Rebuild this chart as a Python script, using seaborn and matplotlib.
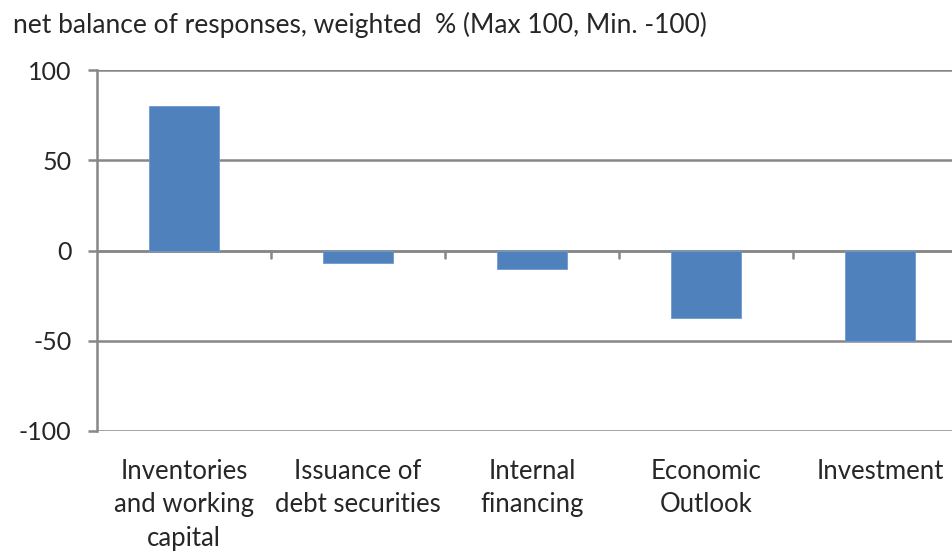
import numpy as np
import pandas as pd
import matplotlib
matplotlib.use("Agg")
import matplotlib.pyplot as plt
import seaborn as sns

categories = ["Inventories\nand working\ncapital", "Issuance of\ndebt securities",
              "Internal\nfinancing", "Economic\nOutlook", "Investment"]
values = [80, -7, -10, -37.5, -50]
y_ticks = [-100, -50, 0, 50, 100]

df = pd.DataFrame({"category": categories, "value": values})

sns.set_style("white")
plt.rcParams['font.family'] = ['Lato', 'DejaVu Sans']

fig = plt.figure(figsize=(9.52, 5.53), dpi=100)
ax = fig.add_axes([97 / 952, 1 - 431 / 553, 870 / 952, 361 / 553])

sns.barplot(data=df, x="category", y="value", color="#4F81BD", saturation=1,
            width=0.4, ax=ax, zorder=3, edgecolor="#6F9BCF", linewidth=0.6)

grid_col = "#878787"
ax.set_ylim(-100, 100)
ax.set_xlim(-0.5, 4.5)
ax.set_yticks(y_ticks)
ax.set_yticklabels([str(v) for v in y_ticks], fontsize=18)
ax.yaxis.grid(True, color=grid_col, linewidth=1.8, zorder=0)
ax.axhline(0, color=grid_col, linewidth=1.8, zorder=2)
for s in ["top", "right", "bottom"]:
    ax.spines[s].set_visible(False)
ax.spines["left"].set_color(grid_col)
ax.spines["left"].set_linewidth(1.8)
ax.tick_params(axis="y", length=6.5, width=1.8, color=grid_col, pad=12, left=True)

ax.set_xticks(range(len(categories)))
ax.set_xticklabels(categories, fontsize=18.5, linespacing=1.42, va="top")
ax.tick_params(axis="x", length=0, pad=20)
# small marks at category boundaries on the zero line
for b in np.arange(0.5, len(categories) - 0.5, 1):
    ax.plot([b, b], [0, -4], color=grid_col, linewidth=1.8, zorder=2, clip_on=False)

ax.set_xlabel("")
ax.set_ylabel("")
fig.text(13 / 952, 1 - 25 / 553, "net balance of responses, weighted  % (Max 100, Min. -100)",
         fontsize=19, va="center", ha="left")

fig.savefig("out.png", dpi=100)
